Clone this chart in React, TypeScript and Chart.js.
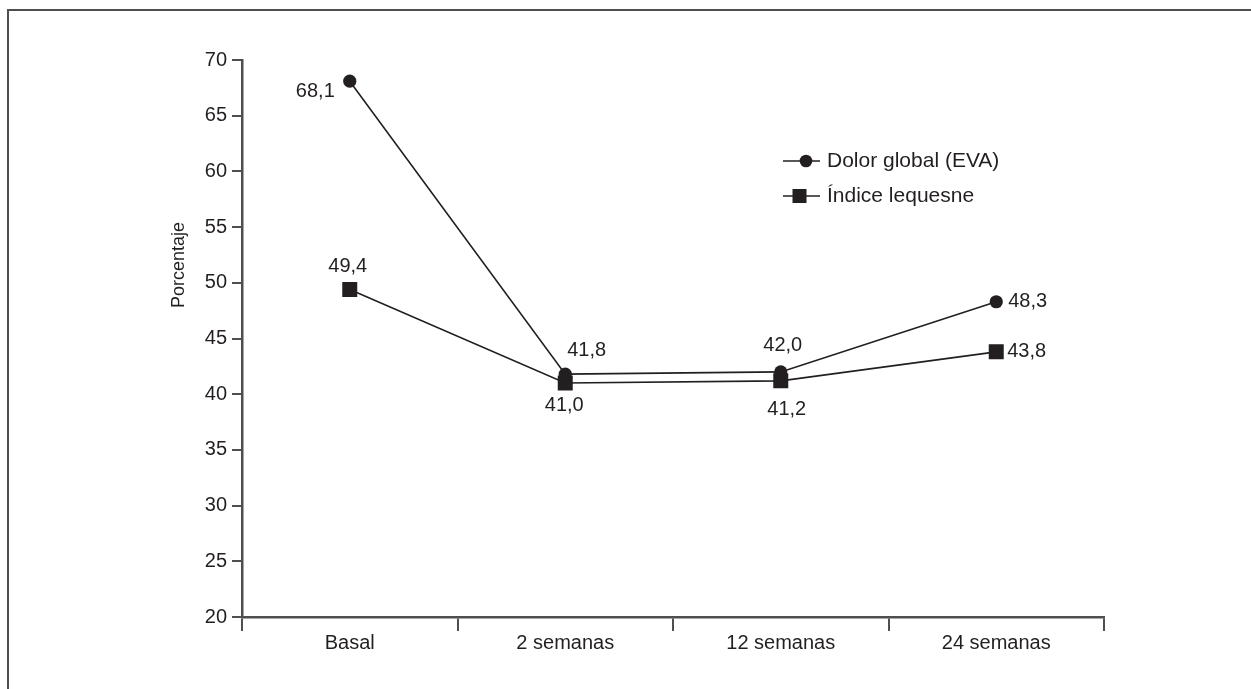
import React, { useEffect, useRef } from 'react';
import { Chart, registerables } from 'chart.js';

Chart.register(...registerables);

// ---- data ----
const categories = ['Basal', '2 semanas', '12 semanas', '24 semanas'];
const dolorGlobal = [68.1, 41.8, 42.0, 48.3];
const indiceLequesne = [49.4, 41.0, 41.2, 43.8];
const seriesNames = ['Dolor global (EVA)', 'Índice lequesne'];
const yMin = 20;
const yMax = 70;
const yStep = 5;
const yTitle = 'Porcentaje';

// ---- styles ----
const FONT = '"Liberation Sans", Arial, Helvetica, sans-serif';
const INK = '#231f20';
const AXIS = '#4f4f4f';
// label offsets [dx, dy, align] per point, per series
const dolorLabelOffsets: [number, number, CanvasTextAlign][] = [
  [-15, 10, 'right'],
  [2, -24, 'left'],
  [2, -26, 'center'],
  [12, 0, 'left'],
];
const indiceLabelOffsets: [number, number, CanvasTextAlign][] = [
  [-2, -23, 'center'],
  [-1, 22, 'center'],
  [6, 29, 'center'],
  [11, 0, 'left'],
];

const fmt = (v: number) => v.toFixed(1).replace('.', ',');

const labelsPlugin = {
  id: 'pointLabels',
  afterDatasetsDraw(chart: any) {
    const ctx = chart.ctx;
    const offsets = [dolorLabelOffsets, indiceLabelOffsets];
    ctx.save();
    ctx.font = `20px ${FONT}`;
    ctx.fillStyle = INK;
    ctx.textBaseline = 'middle';
    chart.data.datasets.forEach((ds: any, di: number) => {
      const meta = chart.getDatasetMeta(di);
      meta.data.forEach((pt: any, i: number) => {
        const [dx, dy, align] = offsets[di][i];
        ctx.textAlign = align;
        ctx.fillText(fmt(ds.data[i]), pt.x + dx, pt.y + dy);
      });
    });
    ctx.restore();
  },
};

const titlePlugin = {
  id: 'yTitle',
  afterDraw(chart: any) {
    const ctx = chart.ctx;
    ctx.save();
    ctx.translate(179, 265);
    ctx.rotate(-Math.PI / 2);
    ctx.font = `18px ${FONT}`;
    ctx.fillStyle = INK;
    ctx.textAlign = 'center';
    ctx.textBaseline = 'middle';
    ctx.fillText(yTitle, 0, 0);
    ctx.restore();
  },
};

const legendPlugin = {
  id: 'customLegend',
  afterDraw(chart: any) {
    const ctx = chart.ctx;
    ctx.save();
    const x0 = 783;
    const x1 = 820;
    const rows = [161, 196];
    ctx.strokeStyle = INK;
    ctx.fillStyle = INK;
    ctx.lineWidth = 1.5;
    rows.forEach((y, r) => {
      ctx.beginPath();
      ctx.moveTo(x0, y);
      ctx.lineTo(x1, y);
      ctx.stroke();
      if (r === 0) {
        ctx.beginPath();
        ctx.arc(806, y, 6.3, 0, Math.PI * 2);
        ctx.fill();
      } else {
        ctx.fillRect(799.5 - 7, y - 7, 14, 14);
      }
      ctx.font = `21px ${FONT}`;
      ctx.textAlign = 'left';
      ctx.textBaseline = 'middle';
      ctx.fillText(seriesNames[r], 827, y);
    });
    ctx.restore();
  },
};

export default function App() {
  const ref = useRef<HTMLCanvasElement | null>(null);

  useEffect(() => {
    if (!ref.current) return;
    const chart = new Chart(ref.current, {
      type: 'line',
      data: {
        labels: categories,
        datasets: [
          {
            label: seriesNames[0],
            data: dolorGlobal,
            borderColor: INK,
            borderWidth: 1.6,
            pointStyle: 'circle',
            pointRadius: 6.6,
            pointHoverRadius: 6.6,
            pointBackgroundColor: INK,
            pointBorderWidth: 0,
            tension: 0,
          },
          {
            label: seriesNames[1],
            data: indiceLequesne,
            borderColor: INK,
            borderWidth: 1.6,
            pointStyle: 'rect',
            pointRadius: 10.6,
            pointHoverRadius: 10.6,
            pointBackgroundColor: INK,
            pointBorderWidth: 0,
            tension: 0,
          },
        ],
      },
      options: {
        animation: false,
        responsive: true,
        maintainAspectRatio: false,
        layout: { padding: { left: 0, top: 60, right: 147, bottom: 0 } },
        plugins: {
          legend: { display: false },
          tooltip: { enabled: false },
        },
        scales: {
          x: {
            type: 'category',
            offset: true,
            grid: {
              offset: true,
              drawOnChartArea: false,
              drawTicks: true,
              tickLength: 14,
              color: AXIS,
              lineWidth: 2,
            },
            border: { display: true, color: AXIS, width: 2.5 },
            ticks: {
              color: INK,
              font: { family: FONT, size: 20 },
              padding: 0,
              maxRotation: 0,
            },
            afterFit: (s: any) => {
              s.height = 72;
            },
          },
          y: {
            min: yMin,
            max: yMax,
            grid: {
              drawOnChartArea: false,
              drawTicks: true,
              tickLength: 10,
              color: AXIS,
              lineWidth: 2,
            },
            border: { display: true, color: AXIS, width: 2.5 },
            ticks: {
              stepSize: yStep,
              color: INK,
              font: { family: FONT, size: 20 },
              padding: 5,
            },
            afterFit: (s: any) => {
              s.width = 242;
            },
          },
        },
      },
      plugins: [labelsPlugin, legendPlugin, titlePlugin],
    });
    return () => chart.destroy();
  }, []);

  return (
    <>
      <div
        style={{
          position: 'fixed',
          left: 7,
          top: 9,
          right: 0,
          bottom: 0,
          borderTop: `2px solid ${AXIS}`,
          borderLeft: `2px solid ${AXIS}`,
          background: '#fff',
        }}
      />
      <div style={{ position: 'fixed', left: 0, top: 0, width: 1251, height: 689 }}>
        <canvas ref={ref} />
      </div>
    </>
  );
}
